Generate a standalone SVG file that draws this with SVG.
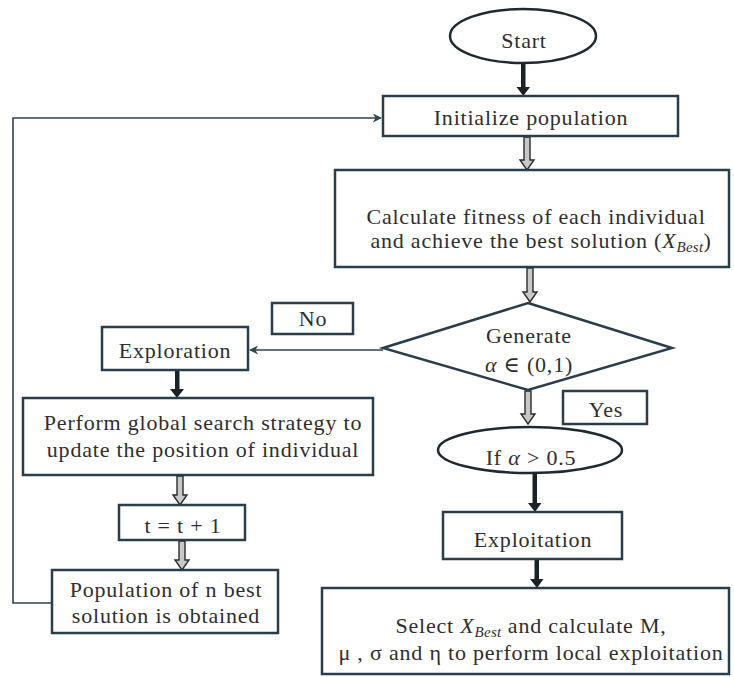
<svg xmlns="http://www.w3.org/2000/svg" width="734" height="677" viewBox="0 0 734 677" font-family="Liberation Serif, DejaVu Serif, serif">
<defs>
<style>
.box{fill:#fff;stroke:#2a3d4a;stroke-width:2.5}
.t{font-size:22px;fill:#2e2e2e;text-anchor:middle;letter-spacing:0.8px}
.m{font-style:italic}
.sub{font-style:italic;font-size:15px;letter-spacing:0.3px}
.solid{fill:#1b2226;stroke:none}
.hollow{fill:#c8c8c8;stroke:#2b2b2b;stroke-width:1.4;stroke-linejoin:miter}
.thin{fill:none;stroke:#2f4452;stroke-width:1.6}
</style>
<marker id="ah" viewBox="0 0 10 10" refX="9" refY="5" markerWidth="9" markerHeight="9" markerUnits="userSpaceOnUse" orient="auto">
<path d="M0,0 L10,5 L0,10 L3,5 z" fill="#2f4452"/>
</marker>
</defs>
<rect width="734" height="677" fill="#fff"/>

<g id="connectors">
<path class="solid" d="M521,64 H525.5 V87 H530 L523.3,96 L516.5,87 H521 Z"/>
<path class="hollow" d="M524,137 H530 V160 H534 L527,170 L520,160 H524 Z"/>
<path class="hollow" d="M527,268 H533 V292 H537 L530,302 L523,292 H527 Z"/>
<line class="thin" x1="383" y1="350" x2="250" y2="350" marker-end="url(#ah)"/>
<path class="solid" d="M175,371 H179.5 V389 H184 L177,398 L170,389 H175 Z"/>
<path class="hollow" d="M177,476 H183 V495 H187 L180,505 L173,495 H177 Z"/>
<path class="hollow" d="M179,541 H185 V560 H189 L182,570 L175,560 H179 Z"/>
<polyline class="thin" points="52,603 13,603 13,118 381,118" marker-end="url(#ah)"/>
<path class="hollow" d="M525,391 H531 V414 H535 L528,424 L521,414 H525 Z"/>
<path class="solid" d="M532.5,474 H537 V503 H541.5 L535,512 L528,503 H532.5 Z"/>
<path class="solid" d="M534.5,560 H539 V579 H543.5 L537,588 L530,579 H534.5 Z"/>
</g>

<g id="start">
<ellipse cx="523" cy="36" rx="73" ry="27" fill="#fff" stroke="#1f2a30" stroke-width="2.5"/>
<text class="t" x="524" y="48">Start</text>
</g>

<g id="initialize">
<rect class="box" x="383" y="96" width="295" height="40"/>
<text class="t" x="531" y="125">Initialize population</text>
</g>

<g id="calculate">
<rect class="box" x="335" y="170" width="394" height="97"/>
<text class="t" x="536" y="224">Calculate fitness of each individual</text>
<text class="t" x="541" y="248">and achieve the best solution (<tspan class="m">X</tspan><tspan class="sub" dy="4">Best</tspan><tspan dy="-4">)</tspan></text>
</g>

<g id="decision">
<polygon points="528,303 672,348 528,390 383,348" fill="#fff" stroke="#2a3d4a" stroke-width="2.5"/>
<text class="t" x="529" y="343">Generate</text>
<text class="t" x="529" y="372"><tspan class="m">α</tspan>  ∈ (0,1)</text>
</g>

<g id="no-label">
<rect class="box" x="272" y="303" width="81" height="31"/>
<text class="t" x="313" y="326">No</text>
</g>

<g id="exploration">
<rect class="box" x="102" y="327" width="146" height="43"/>
<text class="t" x="175" y="358">Exploration</text>
</g>

<g id="perform">
<rect class="box" x="23" y="398" width="350" height="77"/>
<text class="t" x="203" y="430">Perform global search strategy to</text>
<text class="t" x="203" y="457">update the position of individual</text>
</g>

<g id="increment">
<rect class="box" x="119" y="505" width="126" height="35"/>
<text class="t" x="183" y="533">t = t + 1</text>
</g>

<g id="population">
<rect class="box" x="52" y="570" width="226" height="63"/>
<text class="t" x="166" y="597">Population of n best</text>
<text class="t" x="166" y="623">solution is obtained</text>
</g>

<g id="yes-label">
<rect class="box" x="563" y="391" width="84" height="33"/>
<text class="t" x="606" y="417">Yes</text>
</g>

<g id="if-check">
<ellipse cx="530" cy="450" rx="92" ry="23" fill="#fff" stroke="#1f2a30" stroke-width="2.5"/>
<text class="t" x="531" y="465">If <tspan class="m">α</tspan> &gt; 0.5</text>
</g>

<g id="exploitation">
<rect class="box" x="443" y="512" width="179" height="47"/>
<text class="t" x="533" y="547">Exploitation</text>
</g>

<g id="select">
<rect class="box" x="322" y="588" width="407" height="86"/>
<text class="t" x="531" y="633">Select <tspan class="m">X</tspan><tspan class="sub" dy="4">Best</tspan><tspan dy="-4"> and calculate M,</tspan></text>
<text class="t" x="531" y="660">μ , σ and η to perform local exploitation</text>
</g>
</svg>
